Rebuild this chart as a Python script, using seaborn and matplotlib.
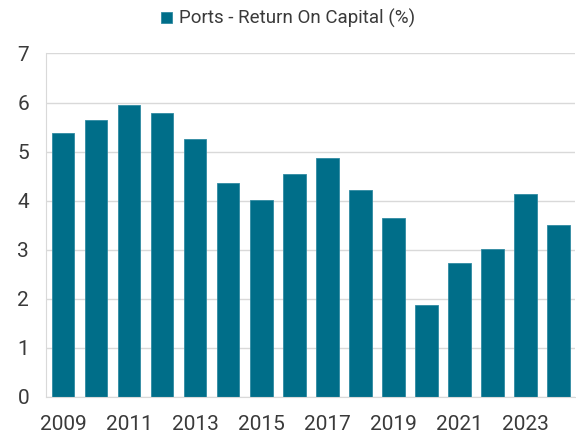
import matplotlib
matplotlib.use("Agg")
import matplotlib.pyplot as plt
import seaborn as sns
import pandas as pd

years = [str(y) for y in range(2009, 2025)]
roc = [5.38, 5.64, 5.94, 5.78, 5.26, 4.36, 4.02, 4.55,
       4.87, 4.22, 3.65, 1.88, 2.72, 3.02, 4.14, 3.50]
series_name = "Ports - Return On Capital (%)"

sns.set_style("white")
plt.rcParams['font.family'] = ['Roboto', 'DejaVu Sans']
text_col = '#3A3A3A'
grid_col = '#D9D9D9'
bar_col = '#006E89'

df = pd.DataFrame({'year': years, 'value': roc})

fig = plt.figure(figsize=(5.76, 4.37), dpi=100)
ax = fig.add_axes([0.0807, 0.0920, 0.918, 0.7856])

sns.barplot(data=df, x='year', y='value', color=bar_col, width=0.68,
            saturation=1, edgecolor='#2F8AA2', linewidth=0.6,
            label=series_name, ax=ax)

ax.set_xlim(-0.5, 15.5)
ax.set_ylim(0, 7)
ax.set_yticks(range(0, 8))
ax.yaxis.grid(True, color=grid_col, linewidth=1)
ax.set_axisbelow(True)
ax.set_xticks(range(0, 16, 2))
ax.set_xticklabels(years[::2])
ax.tick_params(axis='both', labelsize=15, labelcolor=text_col)
ax.tick_params(axis='y', length=4.5, width=1, color=grid_col, pad=8)
ax.tick_params(axis='x', length=0, pad=13)
ax.set_xlabel("")
ax.set_ylabel("")

for side in ['top', 'right']:
    ax.spines[side].set_visible(False)
ax.spines['left'].set_color(grid_col)
ax.spines['bottom'].set_color(grid_col)

handles, labels = ax.get_legend_handles_labels()
if ax.legend_:
    ax.legend_.remove()
fig.legend(handles, labels, loc='center', bbox_to_anchor=(0.5, 0.957),
           frameon=False, fontsize=13.5, labelcolor=text_col,
           handlelength=0.6, handleheight=0.6, handletextpad=0.35)

fig.savefig("out.png", dpi=100)
